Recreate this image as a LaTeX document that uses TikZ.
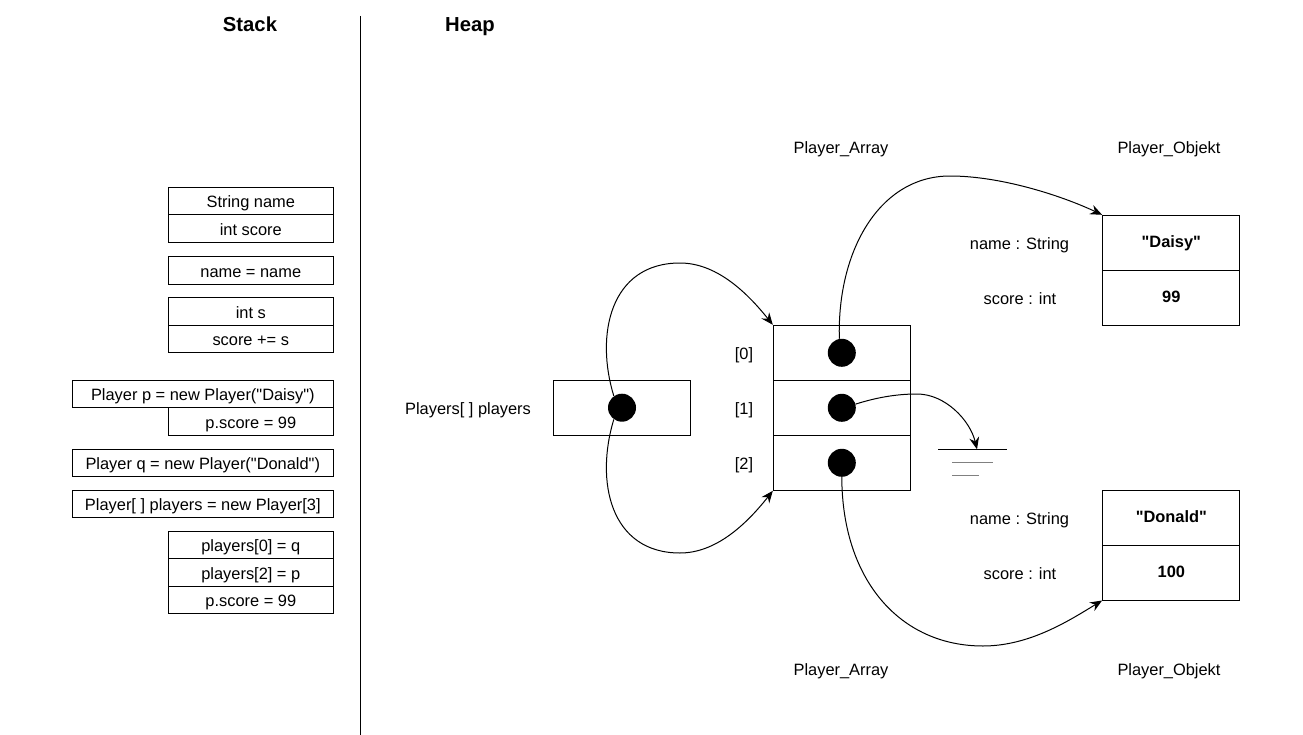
\documentclass[tikz,border=0pt]{standalone}
\usepackage{fontspec}
\setmainfont{Liberation Sans}[Ligatures=TeXOff]
\usetikzlibrary{arrows.meta}
\begin{document}
\begin{tikzpicture}[x=0.75pt,y=-0.75pt,
  every node/.style={font=\fontsize{12.3}{14.8}\selectfont, inner sep=0pt, text height=11.8pt, text depth=1.6pt},
  cellN/.style={draw, line width=0.75pt, minimum width=123.75pt, minimum height=20.625pt},
  cellW/.style={draw, line width=0.75pt, minimum width=195.75pt, minimum height=20.625pt},
  hcell/.style={draw, line width=0.75pt, minimum width=103pt, minimum height=41.25pt},
  val/.style={hcell, font=\fontsize{12.3}{14.8}\selectfont\bfseries, text depth=4.6pt},
  dotn/.style={circle, fill=black, minimum size=21pt},
  hdr/.style={font=\fontsize{15.2}{18}\selectfont\bfseries, text height=13.9pt, text depth=2pt},
  arr/.style={line width=0.75pt, -{Stealth[length=9pt,width=7.4pt,inset=3pt]}}
]
\useasboundingbox (0,0) rectangle (1303,735);

% headers and divider
\node[hdr] (stack) at (250,24) {Stack};
\node[hdr] (heap) at (470,24) {Heap};
\coordinate (divtop) at (360,16);
\coordinate (divbot) at (360,735);
\draw[line width=0.75pt] (divtop) -- (divbot);

% stack frames
\node[cellN] (s1a) at (250.8,201) {String name};
\node[cellN] (s1b) at (250.8,228.5) {int score};
\node[cellN] (s2) at (250.8,270.3) {name = name};
\node[cellN] (s3a) at (250.8,311.3) {int s};
\node[cellN] (s3b) at (250.8,338.8) {score += s};
\node[cellW] (s4a) at (202.8,394) {Player p = new Player("Daisy")};
\node[cellN] (s4b) at (250.8,421.5) {p.score = 99};
\node[cellW] (s5) at (202.8,463) {Player q = new Player("Donald")};
\node[cellW] (s6) at (202.8,504) {Player[ ] players = new Player[3]};
\node[cellN] (s7a) at (250.8,544.8) {players[0] = q};
\node[cellN] (s7b) at (250.8,572.5) {players[2] = p};
\node[cellN] (s7c) at (250.8,599.8) {p.score = 99};

% heap: players reference
\node (plab) at (468,408) {Players[ ] players};
\node[hcell] (pbox) at (622,407.7) {};
\node[dotn] (pd) at (622,407.7) {};

% array
\node (l0) at (744,353) {[0]};
\node (l1) at (744,408) {[1]};
\node (l2) at (744,463) {[2]};
\node[hcell, minimum width=102.75pt] (a0) at (841.8,352.8) {};
\node[hcell, minimum width=102.75pt] (a1) at (841.8,407.8) {};
\node[hcell, minimum width=102.75pt] (a2) at (841.8,462.8) {};
\node[dotn] (d0) at (841.8,352.8) {};
\node[dotn] (d1) at (841.8,407.8) {};
\node[dotn] (d2) at (841.8,462.8) {};

\node (pa1) at (841,147) {Player\_Array};
\node (pa2) at (841,669) {Player\_Array};
\node (po1) at (1169,147) {Player\_Objekt};
\node (po2) at (1169,669) {Player\_Objekt};

% objects
\node (n1) at (1019.5,243) {name : String};
\node (c1) at (1020,298) {score : int};
\node[val] (dn) at (1171.3,242.8) {"Daisy"};
\node[val] (ds) at (1171.3,297.7) {99};
\node (n2) at (1019.5,518) {name : String};
\node (c2) at (1020,573) {score : int};
\node[val] (on) at (1171.3,517.5) {"Donald"};
\node[val] (os) at (1171.3,572.5) {100};

% ground (null)
\coordinate (gnd) at (977,449.3);
\coordinate (g1l) at (938.3,449.3);
\coordinate (g1r) at (1006.7,449.3);
\coordinate (g2l) at (952,462.3);
\coordinate (g2r) at (992.7,462.3);
\coordinate (g3l) at (952,475.7);
\coordinate (g3r) at (978.7,475.7);
\draw[line width=0.75pt] (g1l) -- (g1r);
\draw[line width=0.75pt, gray] (g2l) -- (g2r);
\draw[line width=0.75pt, gray] (g3l) -- (g3r);

% connectors
\draw[arr] (pd.125) .. controls (595,335) and (610,263) .. (680,263)
  .. controls (715,263) and (745,290) .. (a0.north west);
\draw[arr] (pd.235) .. controls (595,481) and (610,553) .. (680,553)
  .. controls (715,553) and (745,526) .. (a2.south west);
\draw[arr] (d0.100) .. controls (837,250) and (880,176) .. (950,176)
  .. controls (1000,176) and (1060,195) .. (dn.north west);
\draw[arr] (d2.270) .. controls (842,580) and (900,646) .. (983,646)
  .. controls (1030,646) and (1070,620) .. (os.south west);
\draw[arr] (d1.15) .. controls (875,398) and (895,394) .. (917,394)
  .. controls (945,394) and (970,420) .. (gnd);
\end{tikzpicture}
\end{document}
